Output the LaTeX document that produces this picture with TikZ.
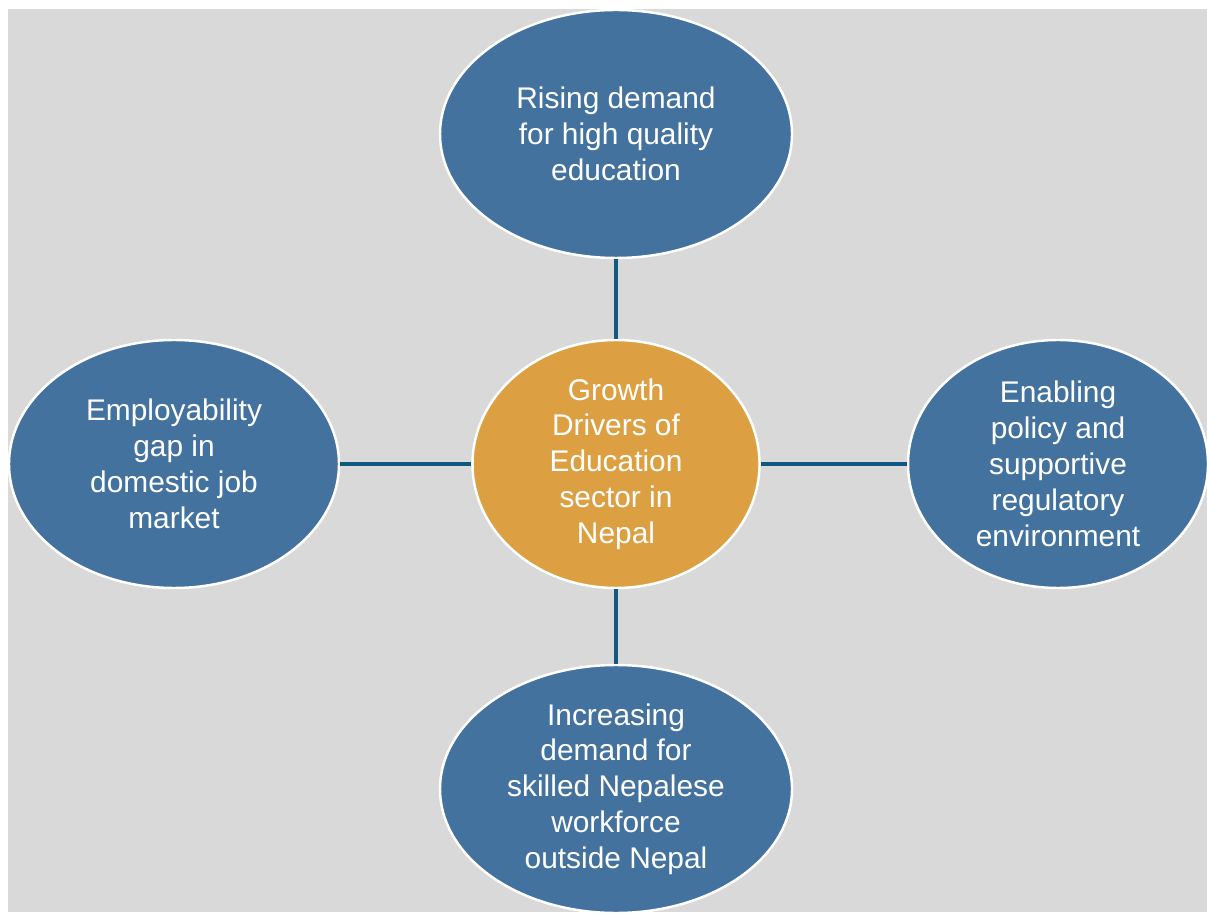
\documentclass[tikz,border=0pt]{standalone}
\usepackage{fontspec}
\setmainfont{Liberation Sans}
\usetikzlibrary{shapes.geometric}
\definecolor{bgray}{RGB}{217,217,217}
\definecolor{dblue}{RGB}{67,114,158}
\definecolor{dorange}{RGB}{220,160,66}
\definecolor{spoke}{RGB}{16,90,130}
\begin{document}
\begin{tikzpicture}[every node/.style={font=\fontsize{17}{20.4}\selectfont},
  bubble/.style={ellipse,draw=white,line width=1.4pt,inner sep=0pt,minimum height=4.96cm,align=center,text=white,fill=dblue}]
\useasboundingbox (0,0) rectangle (24.14,18.24);
\fill[bgray] (0.16,0) rectangle (24.14,18.06);
\node[bubble,fill=dorange,minimum width=5.74cm] (mid) at (12.32,8.96) {Growth\\Drivers of\\Education\\sector in\\Nepal};
\node[bubble,minimum width=7.04cm] (demand) at (12.32,15.56) {Rising demand\\for high quality\\education};
\node[bubble,minimum width=6.6cm] (gap) at (3.48,8.96) {Employability\\gap in\\domestic job\\market};
\node[bubble,minimum width=6.0cm] (policy) at (21.16,8.96) {Enabling\\policy and\\supportive\\regulatory\\environment};
\node[bubble,minimum width=7.04cm] (skilled) at (12.32,2.46) {Increasing\\demand for\\skilled Nepalese\\workforce\\outside Nepal};
% spokes
\draw[spoke,line width=2.6pt] (demand)--(mid); \draw[spoke,line width=2.6pt] (gap)--(mid);
\draw[spoke,line width=2.6pt] (policy)--(mid); \draw[spoke,line width=2.6pt] (skilled)--(mid);
\end{tikzpicture}
\end{document}
